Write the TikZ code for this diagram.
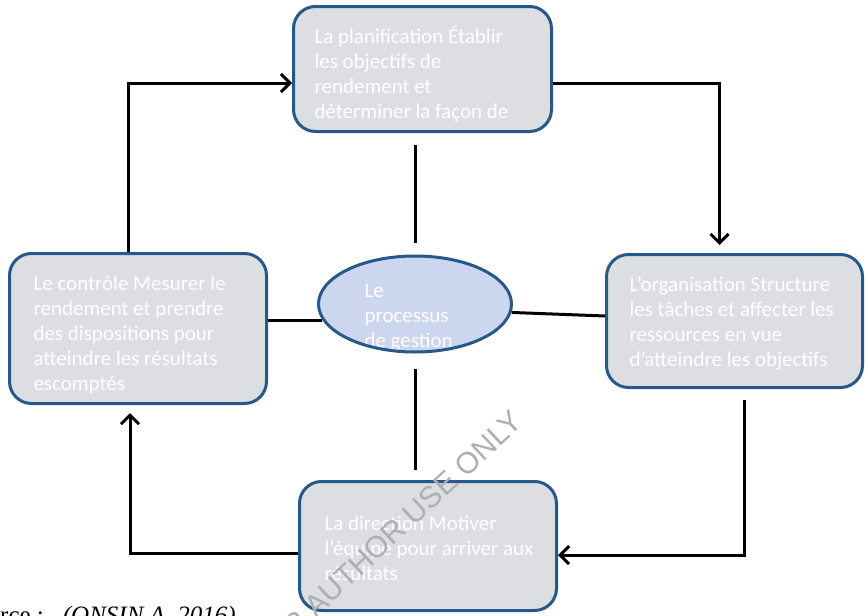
\documentclass[tikz,border=0pt]{standalone}
\usepackage{fontspec}
\setmainfont{Carlito}
\newfontfamily\capfont{Liberation Serif}
\newfontfamily\wmfont{Liberation Sans}
\usetikzlibrary{arrows.meta,shapes.geometric}

\definecolor{bordure}{RGB}{38,88,138}
\definecolor{marbre}{RGB}{221,222,226}
\definecolor{bulle}{RGB}{204,214,238}
\definecolor{filigrane}{RGB}{175,175,175}

\newcommand{\lignestxt}[1]{\begin{tabular}[t]{@{}l@{}}#1\end{tabular}}

\tikzset{
  etape/.style={draw=bordure, line width=3pt, rounded corners=22pt, fill=marbre, inner sep=0pt},
  lignes/.style={rectangle, draw=none, fill=none, minimum width=0pt, minimum height=0pt,
    font=\fontsize{21}{25}\selectfont, text=white, anchor=base west, inner sep=0pt},
  fleche/.style={line width=3pt, -{Straight Barb[length=9pt,width=18pt]}},
  trait/.style={line width=3pt}
}

\begin{document}
\begin{tikzpicture}[x=1pt, y=-1pt]
\useasboundingbox (0,0) rectangle (868,616);

% les quatre etapes
\node[etape, minimum width=258, minimum height=125,
  path picture={\node[lignes] at ([shift={(19.5,36.5)}]path picture bounding box.north west)
    {\lignestxt{La planification Établir\\les objectifs de\\rendement et\\déterminer la façon de}};}]
  (plan) at (422.5,69) {};
\node[etape, minimum width=257, minimum height=150,
  path picture={\node[lignes] at ([shift={(22.5,36.5)}]path picture bounding box.north west)
    {\lignestxt{Le contrôle Mesurer le\\rendement et prendre\\des dispositions pour\\atteindre les résultats\\escomptés}};}]
  (ctrl) at (138,328.5) {};
\node[etape, minimum width=256, minimum height=133,
  path picture={\node[lignes] at ([shift={(21.5,36.5)}]path picture bounding box.north west)
    {\lignestxt{L’organisation Structure\\les tâches et affecter les\\ressources en vue\\d’atteindre les objectifs}};}]
  (org) at (734.5,321) {};
\node[etape, minimum width=257, minimum height=129,
  path picture={\node[lignes] at ([shift={(23.5,48.5)}]path picture bounding box.north west)
    {\lignestxt{La direction Motiver\\l’équipe pour arriver aux\\résultats}};}]
  (dir) at (428,546) {};

% le centre
\node[ellipse, draw=bordure, line width=3pt, fill=bulle, inner sep=0pt,
  minimum width=193, minimum height=96,
  path picture={\node[lignes] at ([shift={(44.5,41.5)}]path picture bounding box.north west)
    {\lignestxt{Le\\processus\\de gestion}};}]
  (proc) at (415,304) {};

% le cycle
\draw[fleche] ([xshift=-10]ctrl.north) |- ([yshift=-14]plan.west);
\draw[fleche, shorten >=8pt] ([yshift=-14]plan.east) -| ([xshift=-15]org.north);
\draw[fleche, shorten <=11pt] ([xshift=10]org.south) |- ([yshift=-9]dir.east);
\draw[fleche, shorten >=8pt] ([yshift=-7]dir.west) -| ([xshift=-8]ctrl.south);

% les liens au centre
\draw[trait, shorten <=12pt, shorten >=12pt] (proc.north |- plan.south) -- (proc.north);
\draw[trait, shorten <=15pt, shorten >=10pt] (proc.south) -- (proc.south |- dir.north);
\draw[trait] (ctrl.east |- proc.190) -- (proc.190);
\draw[trait] (proc.355) -- ([yshift=5]org.west);

% source et filigrane
\node[font=\capfont\fontsize{25}{30}\selectfont, anchor=base east, inner sep=0pt]
  (source) at (236,623) {Source :\hspace{19pt}\textit{(ONSIN A, 2016)}};
\node[font=\wmfont\fontsize{30}{30}\selectfont, text=filigrane, rotate=43, inner sep=0pt]
  (marque) at (387,538) {FOR AUTHOR USE ONLY};
\end{tikzpicture}
\end{document}
